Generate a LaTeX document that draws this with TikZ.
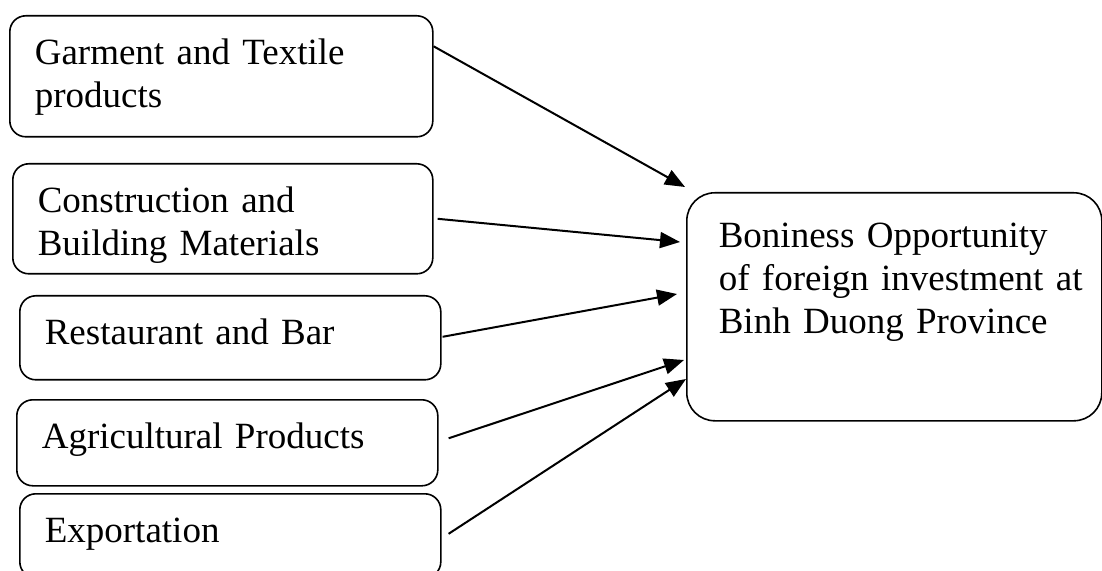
\documentclass[tikz,border=0pt]{standalone}
\usepackage{fontspec}
\setmainfont{Liberation Serif}
\usetikzlibrary{arrows.meta}

\begin{document}
\begin{tikzpicture}[x=0.5pt,y=-0.5pt]
    \tikzstyle{every node}+=[font=\fontsize{18.5}{21.5}\selectfont]
    \tikzstyle{sector}=[draw, line width=0.8pt, rounded corners=8pt, anchor=north west, align=left, inner xsep=12.5pt, inner ysep=0pt, text height=24.5pt]
    \tikzstyle{goal}=[draw, line width=0.8pt, rounded corners=14pt, anchor=north west, align=left, inner xsep=16pt, inner ysep=0pt, text height=27.5pt, text depth=86.5pt, text width=175.5pt]
    \tikzstyle{flow}=[line width=1pt, -{Triangle[length=10pt,width=8pt]}]
    \useasboundingbox (0,0) rectangle (1102,571);
    % sectors on the left
    \node[sector, text width=186.5pt, text depth=36pt] (garment) at (9,15) {Garment and Textile\\products};
    \node[sector, text width=185pt, text depth=30.5pt] (building) at (12,163) {Construction and\\Building Materials};
    \node[sector, text width=185.5pt, text depth=17.5pt] (restaurant) at (19,295) {Restaurant and Bar};
    \node[sector, text width=185.5pt, text depth=18.5pt] (agri) at (16,399) {Agricultural Products};
    \node[sector, text width=185.5pt, text depth=17.5pt] (export) at (19,493) {Exportation};
    % opportunity box
    \node[goal] (opp) at (686,192) {Boniness Opportunity\\\mbox{of foreign investment at}\\Binh Duong Province};
    % arrows
    \draw[flow] ([yshift=15pt]garment.east) -- ([xshift=-0.5pt,yshift=2.5pt]opp.north west);
    \draw[flow] ([xshift=2pt]building.east) -- ([xshift=-3pt,yshift=-25pt]opp.north west);
    \draw[flow] ([xshift=0.5pt,yshift=0.5pt]restaurant.east) -- ([xshift=-4.5pt,yshift=-51pt]opp.north west);
    \draw[flow] ([xshift=5pt,yshift=2.25pt]agri.east) -- ([xshift=-1pt,yshift=-84pt]opp.north west);
    \draw[flow] ([xshift=3.5pt,yshift=1pt]export.east) -- ([yshift=-93.5pt]opp.north west);
\end{tikzpicture}
\end{document}
